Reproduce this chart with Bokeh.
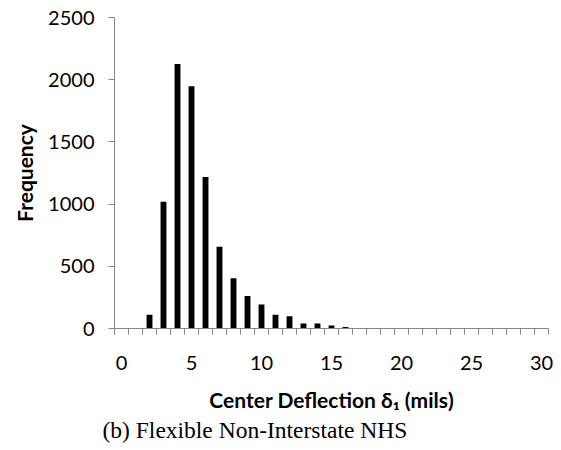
from bokeh.plotting import figure
from bokeh.models import Range1d, FixedTicker, Title
from bokeh.embed import file_html
from bokeh.resources import INLINE

categories = list(range(0, 31))
frequency = [0, 0, 110, 1018, 2127, 1947, 1217, 658, 403, 261, 193, 110, 99, 40, 40,
             24, 13, 5, 5, 3, 3, 0, 0, 0, 0, 0, 4, 0, 0, 0, 0]
x_tick_labels = [0, 5, 10, 15, 20, 25, 30]
y_tick_values = [0, 500, 1000, 1500, 2000, 2500]

FONT = "Lato"
AXIS_GREY = "#868686"

p = figure(width=561, height=450, output_backend="svg", toolbar_location=None,
           x_range=Range1d(-0.5, 30.5), y_range=Range1d(0, 2500),
           min_border_left=114, min_border_right=13, min_border_top=17,
           min_border_bottom=122)
p.frame_width = 434
p.frame_height = 311

p.vbar(x=categories, top=frequency, width=0.42, fill_color="black", line_color=None)

p.xgrid.visible = False
p.ygrid.visible = False
p.outline_line_color = None

xa = p.xaxis[0]
xa.ticker = FixedTicker(ticks=x_tick_labels,
                        minor_ticks=[c - 0.5 for c in categories] + [categories[-1] + 0.5])
xa.major_tick_out = 0
xa.major_tick_in = 0
xa.minor_tick_out = 6
xa.minor_tick_in = 0
xa.minor_tick_line_color = AXIS_GREY
xa.axis_line_color = AXIS_GREY
xa.major_label_standoff = 21
xa.major_label_text_font = FONT
xa.major_label_text_font_size = "20px"
xa.major_label_text_color = "black"
xa.axis_label = "Center Deflection \u03b4\u2081 (mils)"
xa.axis_label_text_font = FONT
xa.axis_label_text_font_style = "bold"
xa.axis_label_text_font_size = "21px"
xa.axis_label_text_color = "black"
xa.axis_label_standoff = 14

ya = p.yaxis[0]
ya.ticker = FixedTicker(ticks=y_tick_values, minor_ticks=[])
ya.major_tick_out = 6
ya.major_tick_in = 0
ya.major_tick_line_color = AXIS_GREY
ya.minor_tick_out = 0
ya.minor_tick_in = 0
ya.axis_line_color = AXIS_GREY
ya.major_label_standoff = 14
ya.major_label_text_font = FONT
ya.major_label_text_font_size = "20px"
ya.major_label_text_color = "black"
ya.axis_label = "Frequency"
ya.axis_label_text_font = FONT
ya.axis_label_text_font_style = "bold"
ya.axis_label_text_font_size = "21px"
ya.axis_label_text_color = "black"
ya.axis_label_standoff = 8

caption = Title(text="(b) Flexible Non-Interstate NHS", align="left", offset=-12,
                standoff=0,
                text_font="Liberation Serif", text_font_size="23.5px",
                text_font_style="normal", text_color="black")
p.add_layout(caption, "below")

open("out.html", "w").write(file_html(p, INLINE))
